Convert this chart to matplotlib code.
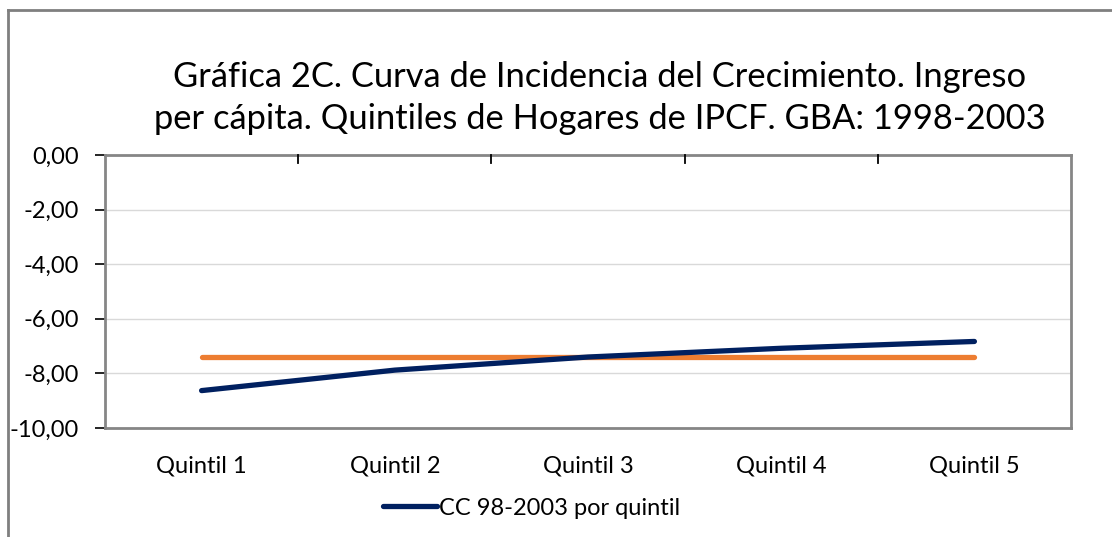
import matplotlib
matplotlib.use("Agg")
import matplotlib.pyplot as plt
from matplotlib.lines import Line2D
from matplotlib.ticker import FuncFormatter

plt.rcParams['font.family'] = ['Lato', 'DejaVu Sans']

# datos
quintiles = ["Quintil 1", "Quintil 2", "Quintil 3", "Quintil 4", "Quintil 5"]
cc_quintil = [-8.63, -7.88, -7.40, -7.08, -6.83]
cc_promedio = [-7.40, -7.40, -7.40, -7.40, -7.40]
titulo = ("Gráfica 2C. Curva de Incidencia del Crecimiento. Ingreso\n"
          "per cápita. Quintiles de Hogares de IPCF. GBA: 1998-2003")

fig = plt.figure(figsize=(11.12, 5.37), dpi=100)
ax = fig.add_axes([105 / 1112, 1 - 428 / 537, 966 / 1112, 273 / 537])

x = list(range(len(quintiles)))
ax.plot(x, cc_promedio, color="#ED7D31", lw=3.8, solid_capstyle="round", zorder=3)
ax.plot(x, cc_quintil, color="#002060", lw=3.8, solid_capstyle="round", zorder=4,
        label="CC 98-2003 por quintil")

ax.set_xlim(-0.5, len(quintiles) - 0.5)
ax.set_ylim(-10, 0)
ax.set_yticks([0, -2, -4, -6, -8, -10])
ax.yaxis.set_major_formatter(FuncFormatter(lambda v, p: f"{v:.2f}".replace(".", ",")))
ax.grid(axis="y", color="#D9D9D9", lw=1)
ax.set_axisbelow(True)

# categorias abajo, eje horizontal cruza en 0 (arriba)
ax.set_xticks(x)
ax.set_xticklabels(quintiles)
ax.tick_params(axis="x", length=0, labelsize=17, pad=20)
ax.tick_params(axis="y", length=7, width=1.2, labelsize=17, pad=12, direction="out")
for xb in [i + 0.5 for i in x[:-1]]:
    ax.plot([xb, xb], [0, -0.3], color="black", lw=1.3, clip_on=False, zorder=5)

for s in ["bottom", "right", "left", "top"]:
    ax.spines[s].set_color("#868686")
    ax.spines[s].set_linewidth(2)

fig.text(0.5390, 0.818, titulo, ha="center", va="center", fontsize=24.8,
         linespacing=1.4)

leg = fig.legend(loc="center", bbox_to_anchor=(0.478, 0.054), frameon=False,
                 fontsize=17, handlelength=2.3, handletextpad=0.1)

# marco exterior del grafico
fig.add_artist(Line2D([8 / 1112, 1.0], [1 - 10 / 537] * 2, color="#7F7F7F", lw=2))
fig.add_artist(Line2D([8 / 1112] * 2, [0, 1 - 10 / 537], color="#7F7F7F", lw=2))

fig.savefig("out.png", dpi=100)
